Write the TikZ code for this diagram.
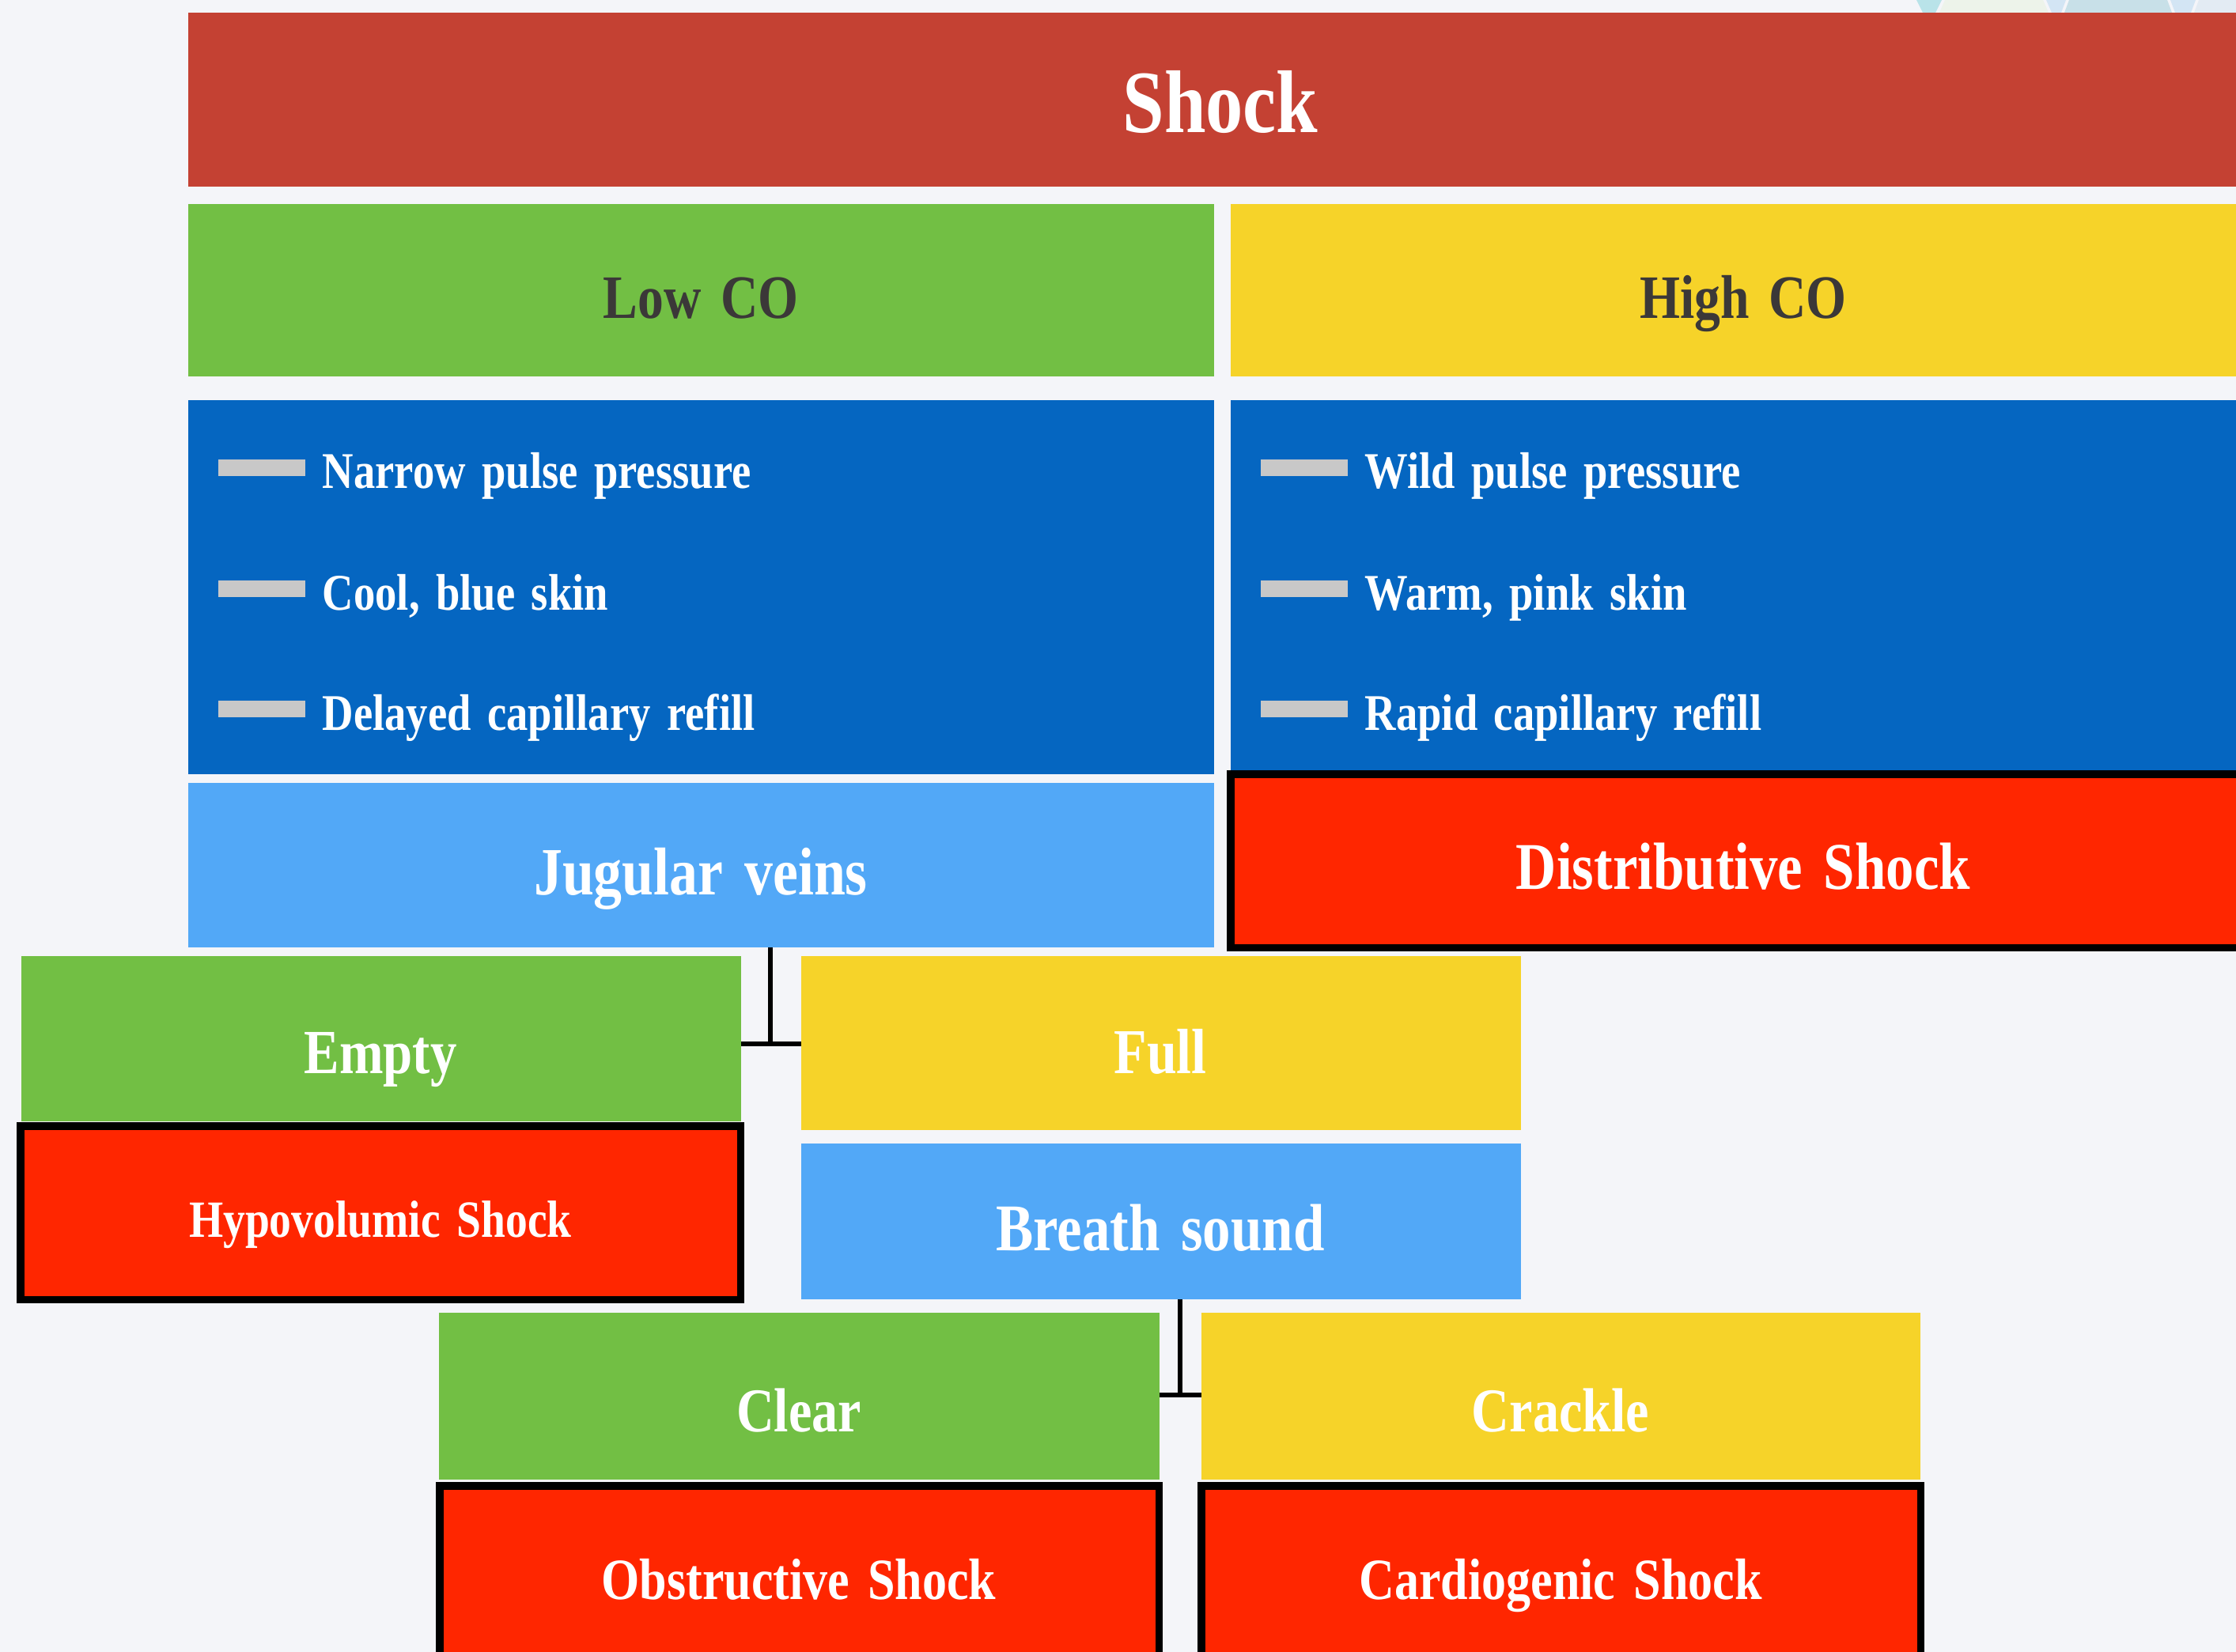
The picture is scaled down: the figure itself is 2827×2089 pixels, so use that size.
\documentclass[tikz,border=0pt]{standalone}
\usepackage{fontspec}
\setmainfont{Liberation Serif}[FakeStretch=0.84,WordSpace=1.5]
\newcommand{\fsz}[1]{\fontsize{#1pt}{#1pt}\selectfont\bfseries}
\definecolor{bgc}{HTML}{F4F5F9}
\definecolor{topred}{HTML}{C44133}
\definecolor{cgreen}{HTML}{72BF44}
\definecolor{cyellow}{HTML}{F6D329}
\definecolor{dblue}{HTML}{0566C1}
\definecolor{lblue}{HTML}{52A8F7}
\definecolor{sred}{HTML}{FF2600}
\definecolor{bargrey}{HTML}{C8C8C8}
\definecolor{dtext}{HTML}{3B3838}
\definecolor{tri1}{HTML}{B9E3E9}
\definecolor{tri2}{HTML}{EDF3EA}
\definecolor{tri3}{HTML}{D3E5F4}
\definecolor{tri4}{HTML}{C8E0E8}
\definecolor{tri5}{HTML}{E3EBF3}
\begin{document}
\begin{tikzpicture}[x=0.01cm,y=-0.01cm,
  box/.style={rectangle,draw=none,inner sep=0pt,outer sep=0pt,anchor=north west},
  shockbox/.style={box,fill=sred,draw=black,line width=2.6pt},
  txt/.style={inner sep=0pt,anchor=base,text=white},
  bul/.style={inner sep=0pt,anchor=base west,text=white,font=\fsz{18.5}},
  conn/.style={draw=black,line width=1.6pt}]
\useasboundingbox[fill=bgc] (0,0) rectangle (2827,2089);
% faint background pattern at the top edge
\fill[tri1] (2423,0) -- (2455,0) -- (2447,16) -- (2431,16) -- cycle;
\fill[tri2] (2459,0) -- (2583,0) -- (2590,16) -- (2452,16) -- cycle;
\fill[tri3] (2587,0) -- (2612,0) -- (2606,16) -- (2594,16) -- cycle;
\fill[tri4] (2616,0) -- (2740,0) -- (2746,16) -- (2610,16) -- cycle;
\fill[tri3] (2744,0) -- (2776,0) -- (2770,16) -- (2750,16) -- cycle;
\fill[tri5] (2780,0) -- (2827,0) -- (2827,16) -- (2774,16) -- cycle;
% boxes
\node[box,fill=topred,minimum width=26.12cm,minimum height=2.20cm] (shock) at (238,16) {};
\node[box,fill=cgreen,minimum width=12.96cm,minimum height=2.18cm] (lowco) at (238,258) {};
\node[box,fill=cyellow,minimum width=12.94cm,minimum height=2.18cm] (highco) at (1556,258) {};
\node[box,fill=dblue,minimum width=12.96cm,minimum height=4.73cm] (lowsig) at (238,506) {};
\node[box,fill=dblue,minimum width=12.94cm,minimum height=4.73cm] (highsig) at (1556,506) {};
\node[box,fill=lblue,minimum width=12.96cm,minimum height=2.08cm] (jug) at (238,990) {};
\node[shockbox,minimum width=12.94cm,minimum height=2.19cm] (dist) at (1556,979) {};
\node[box,fill=cgreen,minimum width=9.09cm,minimum height=2.09cm] (empty) at (27,1209) {};
\node[shockbox,minimum width=9.10cm,minimum height=2.19cm] (hypo) at (26,1424) {};
\node[box,fill=cyellow,minimum width=9.09cm,minimum height=2.20cm] (full) at (1013,1209) {};
\node[box,fill=lblue,minimum width=9.09cm,minimum height=1.97cm] (breath) at (1013,1446) {};
\node[box,fill=cgreen,minimum width=9.10cm,minimum height=2.11cm] (clear) at (555,1660) {};
\node[box,fill=cyellow,minimum width=9.08cm,minimum height=2.11cm] (crackle) at (1519,1660) {};
\node[shockbox,minimum width=9.09cm,minimum height=2.60cm] (obst) at (556,1879) {};
\node[shockbox,minimum width=9.09cm,minimum height=2.60cm] (card) at (1519,1879) {};
% bullet bars
\foreach \yy in {581,734,886}{
  \fill[bargrey] (276,\yy) rectangle (386,\yy+21);
  \fill[bargrey] (1594,\yy) rectangle (1704,\yy+21);
}
% texts
\node[txt,font=\fsz{32}] (tshock) at (1543,168) {Shock};
\node[txt,font=\fsz{22.2},text=dtext] (tlow) at (886,403) {Low CO};
\node[txt,font=\fsz{22.2},text=dtext] (thigh) at (2204,403) {High CO};
\node[bul] (b1) at (407,618) {Narrow pulse pressure};
\node[bul] (b2) at (407,772) {Cool, blue skin};
\node[bul] (b3) at (407,924) {Delayed capillary refill};
\node[bul] (b4) at (1725,618) {Wild pulse pressure};
\node[bul] (b5) at (1725,772) {Warm, pink skin};
\node[bul] (b6) at (1725,924) {Rapid capillary refill};
\node[txt,font=\fsz{24.3}] (tjug) at (886,1132) {Jugular veins};
\node[txt,font=\fsz{24}] (tdist) at (2204,1125) {Distributive Shock};
\node[txt,font=\fsz{22.6}] (tempty) at (481,1357) {Empty};
\node[txt,font=\fsz{18.8}] (thypo) at (481,1564) {Hypovolumic Shock};
\node[txt,font=\fsz{23}] (tfull) at (1467,1357) {Full};
\node[txt,font=\fsz{24}] (tbreath) at (1467,1581) {Breath sound};
\node[txt,font=\fsz{22.4}] (tclear) at (1010,1810) {Clear};
\node[txt,font=\fsz{22.4}] (tcrack) at (1973,1810) {Crackle};
\node[txt,font=\fsz{21}] (tobst) at (1010,2022) {Obstructive Shock};
\node[txt,font=\fsz{21}] (tcard) at (1973,2022) {Cardiogenic Shock};
% connectors
\coordinate (j1) at (974,1320);
\coordinate (j2) at (1492,1764);
\draw[conn] (jug.south -| j1) -- (j1);
\draw[conn] (empty.east |- j1) -- (full.west |- j1);
\draw[conn] (breath.south -| j2) -- (j2);
\draw[conn] (clear.east |- j2) -- (crackle.west |- j2);
\end{tikzpicture}
\end{document}
